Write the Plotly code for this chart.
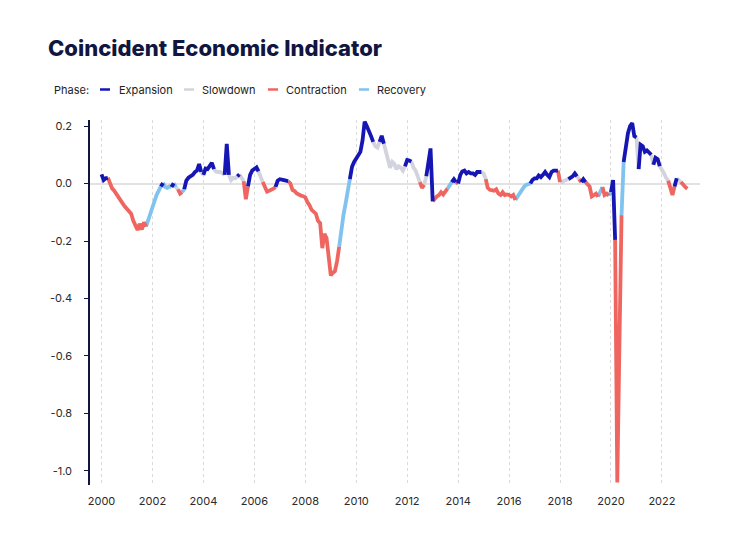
import pandas as pd
import plotly.graph_objects as go

# ---------------- data (monthly, Jan 2000 - Jan 2023) ----------------
v2000 = [0.032, 0.012, 0.018, 0.02, 0.0, -0.017, -0.025, -0.035, -0.045, -0.06, -0.07, -0.08]
v2001 = [-0.09, -0.095, -0.105, -0.13, -0.145, -0.162, -0.14, -0.16, -0.135, -0.15, -0.125, -0.105]
v2002 = [-0.085, -0.06, -0.04, -0.02, -0.01, 0.002, -0.012, -0.015, -0.01, -0.012, 0.001, -0.012]
v2003 = [-0.02, -0.035, -0.03, -0.02, 0.01, 0.02, 0.025, 0.03, 0.04, 0.045, 0.068, 0.04]
v2004 = [0.03, 0.052, 0.05, 0.062, 0.072, 0.05, 0.042, 0.04, 0.04, 0.035, 0.03, 0.138]
v2005 = [0.03, 0.012, 0.02, 0.018, 0.025, 0.032, 0.02, 0.008, -0.055, -0.01, 0.03, 0.045]
v2006 = [0.052, 0.056, 0.042, 0.02, 0.005, -0.012, -0.028, -0.025, -0.022, -0.018, -0.012, 0.01]
v2007 = [0.015, 0.012, 0.012, 0.01, 0.008, 0.0, -0.022, -0.026, -0.035, -0.04, -0.042, -0.044]
v2008 = [-0.048, -0.065, -0.075, -0.092, -0.1, -0.105, -0.13, -0.138, -0.225, -0.175, -0.19, -0.255]
v2009 = [-0.32, -0.31, -0.305, -0.27, -0.22, -0.16, -0.11, -0.07, -0.028, 0.015, 0.058, 0.075]
v2010 = [0.088, 0.1, 0.11, 0.15, 0.215, 0.2, 0.185, 0.165, 0.145, 0.13, 0.125, 0.145]
v2011 = [0.166, 0.138, 0.11, 0.088, 0.055, 0.075, 0.068, 0.05, 0.06, 0.055, 0.045, 0.06]
v2012 = [0.082, 0.08, 0.076, 0.055, 0.045, 0.025, 0.005, -0.015, -0.005, 0.025, 0.07, 0.122]
v2013 = [-0.062, -0.05, -0.045, -0.04, -0.03, -0.038, -0.025, -0.018, -0.008, 0.005, 0.015, 0.005]
v2014 = [0.0, 0.03, 0.042, 0.045, 0.035, 0.04, 0.035, 0.035, 0.03, 0.04, 0.04, 0.04]
v2015 = [0.035, 0.015, -0.015, -0.022, -0.025, -0.025, -0.02, -0.035, -0.04, -0.03, -0.04, -0.038]
v2016 = [-0.04, -0.045, -0.04, -0.057, -0.045, -0.03, -0.022, -0.012, -0.005, -0.002, 0.0, 0.012]
v2017 = [0.018, 0.018, 0.028, 0.022, 0.03, 0.04, 0.03, 0.022, 0.04, 0.045, 0.045, 0.045]
v2018 = [0.005, 0.005, 0.01, 0.012, 0.015, 0.02, 0.025, 0.035, 0.025, 0.015, 0.005, 0.015]
v2019 = [0.005, -0.005, -0.01, -0.045, -0.04, -0.035, -0.046, -0.03, -0.012, -0.04, -0.035, -0.042]
v2020 = [-0.03, 0.012, -0.196, -1.04, -0.57, -0.11, 0.075, 0.135, 0.175, 0.2, 0.21, 0.165]
v2021 = [0.16, 0.05, 0.135, 0.13, 0.11, 0.115, 0.105, 0.1, 0.065, 0.09, 0.085, 0.06]
v2022 = [0.05, 0.035, 0.02, 0.01, -0.012, -0.04, -0.01, 0.018, 0.012, 0.005, -0.005, -0.012]
v2023 = [-0.018]

# phase of each month: E=Expansion, S=Slowdown, C=Contraction, R=Recovery
p2000 = "EEEECCCCCCCC"
p2001 = "CCCCCCCCCCRR"
p2002 = "RRRRRERRRRER"
p2003 = "SCCREEEEEEEE"
p2004 = "SEEEEESSSSSE"
p2005 = "ESSSSESSCCEE"
p2006 = "EEESSCCCCCCE"
p2007 = "EEEEECCCCCCC"
p2008 = "CCCCCCCCCCCC"
p2009 = "CCCCCRRRRREE"
p2010 = "EEEEEEEEESSS"
p2011 = "EESSSSSSSSSS"
p2012 = "EEESSSSCCSEE"
p2013 = "ECCCCCCCRREE"
p2014 = "CEEEEEEEEEEE"
p2015 = "SSCCCCCCCCCC"
p2016 = "CCCCRRRRRRRE"
p2017 = "EEEEEEEEEEEE"
p2018 = "CSSSSEEEESCE"
p2019 = "ECCCCCCRRCCC"
p2020 = "REECCCREEEEE"
p2021 = "ESEEEEEESEEE"
p2022 = "SSSSCCCESSCC"
p2023 = "C"

phase_names = {"E": "Expansion", "S": "Slowdown", "C": "Contraction", "R": "Recovery"}
phase_colors = {"E": "#1616b4", "S": "#d3d3dd", "C": "#ef6560", "R": "#7fc3ee"}
legend_order = ["E", "S", "C", "R"]

y_tickvals = [0.2, 0.0, -0.2, -0.4, -0.6, -0.8, -1.0]
y_ticktext = ["0.2", "0.0", "-0.2", "-0.4", "-0.6", "-0.8", "-1.0"]
x_tick_years = list(range(2000, 2023, 2))

title_text = "Coincident Economic Indicator"

# ---------------- assemble ----------------
values = (v2000 + v2001 + v2002 + v2003 + v2004 + v2005 + v2006 + v2007 + v2008 + v2009 + v2010
          + v2011 + v2012 + v2013 + v2014 + v2015 + v2016 + v2017 + v2018 + v2019 + v2020
          + v2021 + v2022 + v2023)
phases = (p2000 + p2001 + p2002 + p2003 + p2004 + p2005 + p2006 + p2007 + p2008 + p2009 + p2010
          + p2011 + p2012 + p2013 + p2014 + p2015 + p2016 + p2017 + p2018 + p2019 + p2020
          + p2021 + p2022 + p2023)
if len(values) != len(phases):
    raise ValueError(f"length mismatch {len(values)} vs {len(phases)}")
dates = pd.date_range("2000-01-01", periods=len(values), freq="MS")

# each segment (i-1 -> i) takes the phase of point i
seg = {k: ([], []) for k in legend_order}
i = 1
n = len(values)
while i < n:
    ph = phases[i]
    j = i
    while j + 1 < n and phases[j + 1] == ph:
        j += 1
    xs, ys = seg[ph]
    xs.extend(list(dates[i - 1:j + 1]) + [None])
    ys.extend(values[i - 1:j + 1] + [None])
    i = j + 1

fig = go.Figure()
for k in ["S", "R", "C", "E"]:
    xs, ys = seg[k]
    fig.add_trace(go.Scatter(
        x=xs, y=ys, mode="lines", name=phase_names[k],
        line=dict(color=phase_colors[k], width=3.8),
        connectgaps=False, showlegend=False, hoverinfo="skip"))

# ---------------- layout geometry (pixels, page has an 8px body margin) ----------------
W, H = 740, 548
OFF = 8
L, R, T, B = 90 - OFF, 700 - OFF, 120 - OFF, 485 - OFF


def px(x):
    return (x - OFF - L) / (R - L)


def py(y):
    return (B - (y - OFF)) / (B - T)


FONT = "Inter, 'Noto Sans', sans-serif"
navy = "#111641"

annotations = [
    dict(text=title_text, x=px(46), y=py(48), xref="paper", yref="paper",
         xanchor="left", yanchor="middle", showarrow=False,
         font=dict(family=FONT, size=22, color=navy, weight=800)),
    dict(text="Phase:", x=px(52), y=py(89.5), xref="paper", yref="paper",
         xanchor="left", yanchor="middle", showarrow=False,
         font=dict(family=FONT, size=11, color="#222")),
]
shapes = []
legend_dash_x = {"E": 100, "S": 184, "C": 268, "R": 359}
legend_text_x = {"E": 117, "S": 200, "C": 284, "R": 375}
for k in legend_order:
    x0 = legend_dash_x[k]
    shapes.append(dict(type="line", xref="paper", yref="paper",
                       x0=px(x0), x1=px(x0 + 10), y0=py(89.5), y1=py(89.5),
                       line=dict(color=phase_colors[k], width=2.5)))
    annotations.append(dict(text=phase_names[k], x=px(legend_text_x[k]), y=py(89.5),
                            xref="paper", yref="paper", xanchor="left", yanchor="middle",
                            showarrow=False, font=dict(family=FONT, size=11, color="#222")))

fig.update_layout(
    width=W, height=H,
    margin=dict(l=L, r=W - R, t=T, b=H - B, pad=0),
    paper_bgcolor="white", plot_bgcolor="white",
    font=dict(family=FONT, size=11, color="#2a2a2a"),
    annotations=annotations, shapes=shapes,
    showlegend=False,
)
fig.update_xaxes(
    type="date",
    range=["1999-07-20", "2023-07-01"],
    tickvals=[f"{y}-01-01" for y in x_tick_years],
    ticktext=[str(y) for y in x_tick_years],
    showgrid=True, gridcolor="#dadada", griddash="dot", gridwidth=1,
    showline=False, zeroline=False, ticks="", ticklabelstandoff=8,
    tickfont=dict(family=FONT, size=11, color="#2a2a2a"),
)
fig.update_yaxes(
    range=[-1.049, 0.221],
    tickvals=y_tickvals, ticktext=y_ticktext,
    showgrid=False,
    zeroline=True, zerolinecolor="#e2e2e2", zerolinewidth=1.5,
    showline=True, linecolor=navy, linewidth=1.5,
    ticks="outside", ticklen=4, tickcolor=navy, tickwidth=1.2,
    ticklabelstandoff=10,
    tickfont=dict(family=FONT, size=11, color="#2a2a2a"),
)

fig.write_html("out.html")
